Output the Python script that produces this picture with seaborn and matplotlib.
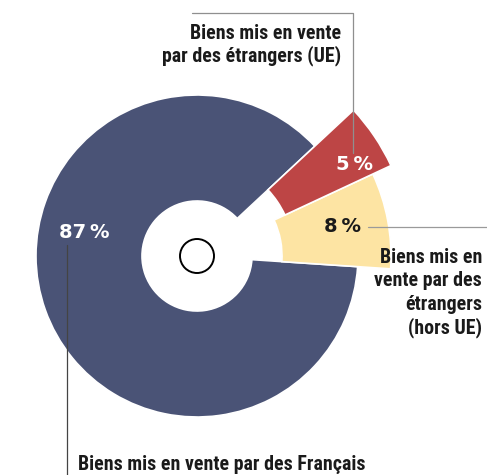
import matplotlib.pyplot as plt
from matplotlib.patches import Circle
import seaborn as sns

sns.set_theme(style="white")
plt.rcParams['font.family'] = ['Roboto Condensed', 'DejaVu Sans']

# data
shares = [87, 8, 5]
pct_labels = ['87\u2009%', '8\u2009%', '5\u2009%']
colors = ['#4a5376', '#fde4a3', '#bd4545']

# ring geometry (px) for each slice
ring_outer = [161, 194, 214]
ring_inner = [55, 85, 97]

W, H = 487, 475
fig = plt.figure(figsize=(W / 100, H / 100), dpi=100)
ax = fig.add_axes([0, 0, 1, 1])

cx, cy = 197, H - 256
wedges, _ = ax.pie(shares, colors=colors, startangle=43, counterclock=True,
                   center=(cx, cy), radius=1,
                   wedgeprops=dict(edgecolor='white', linewidth=1.2))
for w, ro, ri in zip(wedges, ring_outer, ring_inner):
    w.set_radius(ro)
    w.set_width(ro - ri)

ax.add_patch(Circle((cx, cy), 17, facecolor='white', edgecolor='black', lw=1.4, zorder=5))

ax.set_xlim(0, W)
ax.set_ylim(0, H)
ax.set_aspect('equal')
ax.axis('off')

# percentage labels
pct_font = dict(family='DejaVu Sans', fontweight='bold', fontsize=14, ha='center', va='center')
ax.text(84, H - 233, pct_labels[0], color='white', **pct_font)
ax.text(343, H - 226, pct_labels[1], color='#1a1a1a', **pct_font)
ax.text(354, H - 165, pct_labels[2], color='white', **pct_font)

# leader lines
ax.plot([192, 353, 353], [H - 13, H - 13, H - 153], color='#8f8f8f', lw=0.9)
ax.plot([368, 487], [H - 227, H - 227], color='#9a9a9a', lw=0.9)
ax.plot([67, 67], [H - 245, 0], color='#444444', lw=0.9)

# group labels
lab = dict(fontweight='heavy', fontsize=14.3, color='#1a1a1a', va='baseline')
ax.text(341, H - 39, 'Biens mis en vente', ha='right', **lab)
ax.text(341, H - 61, 'par des étrangers (UE)', ha='right', **lab)

for y, line in zip([263, 286.5, 310, 333.5],
                   ['Biens mis en', 'vente par des', 'étrangers', '(hors UE)']):
    ax.text(482, H - y, line, ha='right', **lab)

ax.text(78, H - 470, 'Biens mis en vente par des Français', ha='left', **lab)

fig.savefig('out.png', dpi=100)
